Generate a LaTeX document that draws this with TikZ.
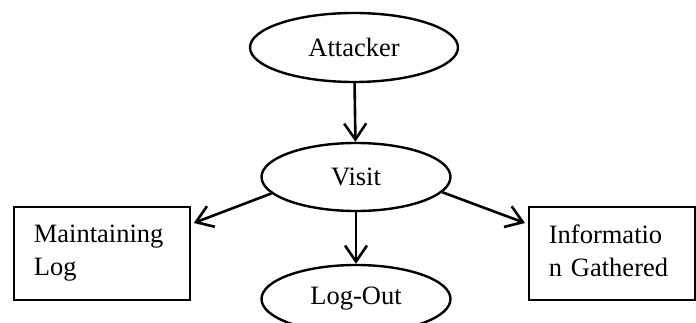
\documentclass[tikz,border=0pt]{standalone}
\usepackage{fontspec}
\setmainfont{Liberation Serif}
\usetikzlibrary{shapes.geometric,arrows.meta}
\begin{document}
\begin{tikzpicture}[x=1pt,y=-1pt,
  every node/.style={font=\fontsize{26.5}{33}\selectfont},
  oval/.style={ellipse,draw,line width=2.4pt,inner sep=0pt},
  box/.style={rectangle,draw,line width=1.8pt,align=left,inner xsep=20pt,inner ysep=0pt,anchor=north west},
  arr/.style={line width=2.6pt,-{Straight Barb[length=16pt,width=22pt,line width=2.6pt]}}]
  \useasboundingbox (0,0) rectangle (696,323);
  \clip (0,0) rectangle (696,323);

  % flow nodes
  \node[oval,minimum width=208pt,minimum height=69pt] (attacker) at (354,47.5) {Attacker};
  \node[oval,minimum width=189pt,minimum height=68pt] (visit) at (356,177) {Visit};
  \node[oval,minimum width=189pt,minimum height=68pt] (logout) at (356,299) {Log-Out};

  % side boxes
  \node[box,text width=136pt,minimum height=93pt] (mlog) at (13,206) {Maintaining\\Log};
  \node[box,text width=126pt,minimum height=93pt] (info) at (528,206) {Informatio\\n Gathered\vphantom{g}};

  % connectors
  \draw[arr] (attacker) -- (visit);
  \draw[arr] (visit) -- (logout);
  \draw[arr] (visit.191) -- ([xshift=3pt,yshift=-17pt]mlog.north east);
  \draw[arr] (visit.-10) -- ([xshift=-3pt,yshift=-17pt]info.north west);
\end{tikzpicture}
\end{document}
